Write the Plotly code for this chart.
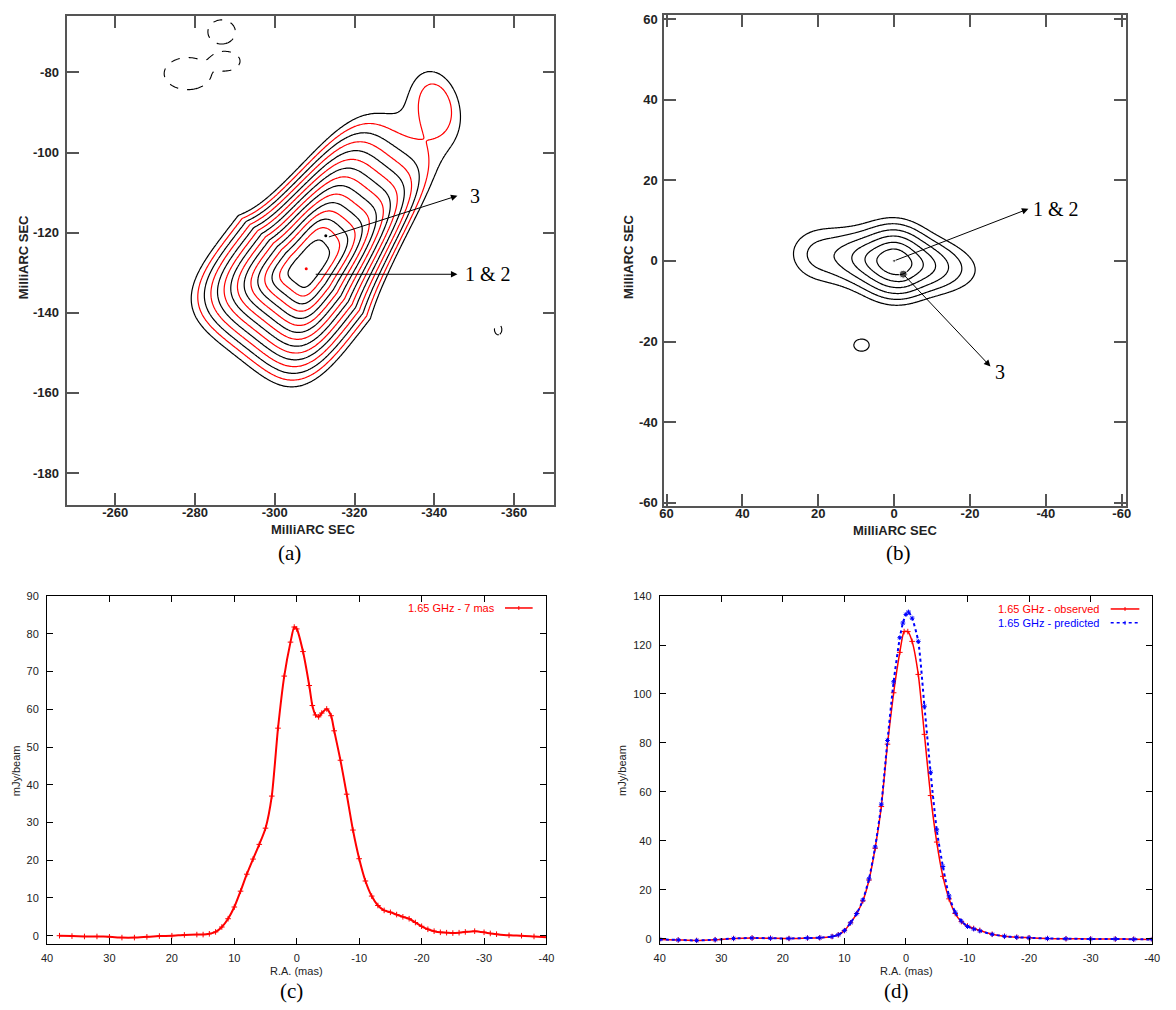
import numpy as np
import plotly.graph_objects as go

FIG_W, FIG_H = 1176, 1010


def px_x(p):
    return p / FIG_W


def px_y(p):
    return 1 - p / FIG_H


# ---------------- panel (a): 1.65 GHz map, source model components ----------------
# centre (mas), peak (units of the lowest contour), PA of the jet axis (deg), shape exponent,
# scale lengths along +u / -u, across-axis scales (+v, -v) at the core and far along the jet
A_COMP_X = [-307.9, -312.8, -340.5]
A_COMP_Y = [-129.0, -120.8, -88.0]
A_COMP_AMP = [190.0, 20.0, 1.7]
A_COMP_PA = [128.0, 0.0, 75.0]
A_COMP_P = [4.0, 2.0, 2.0]
A_COMP_HU_P = [6.8, 2.5, 6.5]
A_COMP_HU_N = [4.55, 2.5, 6.5]
A_COMP_HVP_CORE = [3.3, 2.5, 4.2]
A_COMP_HVP_JET = [1.9, 2.5, 4.2]
A_COMP_HVP_LEN = [22.0, 1.0, 1.0]
A_COMP_HVN_CORE = [3.5, 2.5, 4.2]
A_COMP_HVN_JET = [2.7, 2.5, 4.2]
A_COMP_HVN_LEN = [8.0, 1.0, 1.0]
# negative (dashed) features
A_NEG_X = [-286.7, -278.2, -287.5, -356.0]
A_NEG_Y = [-69.9, -80.3, -77.2, -144.2]
A_NEG_SX = [1.92, 3.29, 2.12, 0.5]
A_NEG_SY = [1.67, 2.23, 1.34, 0.72]
A_NEG_AMP = [5.0, 5.0, 5.0, 5.0]
A_XTICKS = [-260, -280, -300, -320, -340, -360]
A_YTICKS = [-80, -100, -120, -140, -160, -180]
A_MARK_X = [-307.9, -312.8]
A_MARK_Y = [-129.0, -120.8]
A_MARK_COL = ["red", "black"]
A_ARROW_TAIL = [(-313.2, -121.2), (-309.9, -130.4)]
A_ARROW_HEAD = [(-345.8, -110.8), (-345.8, -130.4)]
A_LABELS = ["3", "1 & 2"]
A_LABEL_POS = [(-350.2, -110.8), (-353.4, -130.4)]

# ---------------- panel (b) ----------------
B_COMP_X = [0.0, 0.0, -2.3, 20.0]
B_COMP_Y = [0.0, -0.3, -3.2, 1.5]
B_COMP_AMP = [40.0, 30.0, 5.0, 1.6]
B_COMP_HU = [2.2, 5.0, 1.5, 4.0]
B_COMP_HV = [2.2, 1.9, 1.5, 3.5]
B_COMP_PA = [0.0, 6.0, 0.0, 0.0]
B_BLOB_X = [8.6]
B_BLOB_Y = [-20.9]
B_BLOB_SX = [1.77]
B_BLOB_SY = [1.32]
B_BLOB_AMP = [1.9]
B_TICKS = [60, 40, 20, 0, -20, -40, -60]
B_MARK_X = [0.0, -2.4]
B_MARK_Y = [0.0, -3.3]
B_MARK_SIZE = [3, 8]
B_ARROW_TAIL = [(0.0, 0.0), (-2.4, -3.3)]
B_ARROW_HEAD = [(-35.4, 12.9), (-25.4, -26.2)]
B_LABELS = ["1 & 2", "3"]
B_LABEL_POS = [(-42.6, 12.8), (-27.9, -27.6)]

# ---------------- panel (c): 1.65 GHz - 7 mas slice ----------------
C_X = [38, 36, 34, 32, 30, 28, 26, 24, 22, 20, 18, 16, 15, 14, 13, 12, 11, 10, 9, 8, 7, 6, 5, 4,
       3, 2, 1, 0.4, 0, -1, -2, -2.5, -3, -3.5, -4, -4.8, -5.5, -6, -7, -8, -9, -10, -11, -12,
       -13, -14, -15, -16, -17, -18, -19, -20, -21, -22, -23, -24, -25, -26, -27, -28.5, -30,
       -31, -32, -34, -36, -38, -40]
C_Y = [0.0, -0.1, -0.2, -0.2, -0.3, -0.5, -0.5, -0.3, -0.1, 0.0, 0.2, 0.3, 0.3, 0.5, 1.0, 2.3,
       4.5, 7.6, 11.8, 16.3, 20.3, 24.2, 28.5, 37.0, 55.0, 68.8, 77.8, 81.8, 81.3, 75.3, 66.3,
       61.0, 58.5, 58.0, 59.0, 60.1, 58.3, 54.3, 46.5, 37.5, 28.0, 20.4, 14.5, 10.5, 8.0, 6.7,
       6.2, 5.6, 5.0, 4.5, 3.5, 2.5, 1.7, 1.2, 0.9, 0.8, 0.7, 0.8, 1.0, 1.2, 0.9, 0.6, 0.4, 0.1,
       0.0, -0.2, -0.4]
C_XTICKS = [40, 30, 20, 10, 0, -10, -20, -30, -40]
C_YTICKS = [0, 10, 20, 30, 40, 50, 60, 70, 80, 90]

# ---------------- panel (d): observed vs predicted ----------------
D_X_OBS = [40, 37, 34, 31, 28, 25, 22, 19, 16, 14, 12, 11, 10, 9, 8, 7, 6, 5, 4, 3, 2, 1, 0.3,
           -0.3, -1, -2, -3, -4, -5, -6, -7, -8, -9, -10, -11, -12, -14, -16, -18, -20, -23,
           -26, -30, -34, -37, -40]
D_Y_OBS = [-0.3, -0.5, -0.7, -0.4, 0.1, 0.3, 0.2, 0.1, 0.3, 0.4, 0.9, 1.6, 3.3, 6.5, 10.3,
           15.5, 24.0, 37.0, 54.0, 79.5, 100.5, 117.0, 125.5, 125.5, 121.5, 108.0, 83.5, 58.5,
           39.5, 25.5, 16.3, 10.3, 7.0, 5.2, 4.2, 3.4, 1.8, 1.0, 0.6, 0.4, 0.1, 0.0, -0.1,
           -0.1, -0.2, -0.3]
D_X_PRED = [40, 37, 34, 31, 28, 25, 22, 19, 16, 14, 12, 11, 10, 9, 8, 7, 6, 5, 4, 3, 2, 1, 0.5,
            0, -0.4, -1, -2, -3, -4, -5, -6, -7, -8, -9, -10, -11, -12, -14, -16, -18, -20, -23,
            -26, -30, -34, -37, -40]
D_Y_PRED = [-0.3, -0.5, -0.7, -0.4, 0.1, 0.3, 0.2, 0.1, 0.3, 0.4, 0.9, 1.6, 3.3, 6.5, 10.3,
            15.8, 24.5, 37.5, 55.0, 81.0, 105.0, 123.0, 129.0, 132.5, 133.5, 131.0, 121.5, 95.0,
            68.0, 44.5, 29.5, 17.5, 10.8, 7.2, 5.0, 4.0, 3.2, 1.8, 1.0, 0.6, 0.4, 0.1, 0.0,
            -0.1, -0.1, -0.2, -0.3]
D_XTICKS = [40, 30, 20, 10, 0, -10, -20, -30, -40]
D_YTICKS = [0, 20, 40, 60, 80, 100, 120, 140]


def source_field(X, Y, cx, cy, amp, pa, pexp, hup, hun, hvp0, hvp1, lp, hvn0, hvn1, ln_):
    """Sum of smoothed-exponential components; across-axis scale may taper along the jet."""
    img = np.zeros_like(X)
    for k in range(len(cx)):
        t = np.deg2rad(pa[k])
        dx, dy = X - cx[k], Y - cy[k]
        u = dx * np.cos(t) + dy * np.sin(t)
        v = -dx * np.sin(t) + dy * np.cos(t)
        up = np.maximum(u, 0.0)
        su = np.where(u >= 0, hup[k], hun[k])
        svp = hvp1[k] + (hvp0[k] - hvp1[k]) * np.exp(-up / lp[k])
        svn = hvn1[k] + (hvn0[k] - hvn1[k]) * np.exp(-up / ln_[k])
        sv = np.where(v >= 0, svp, svn)
        e = pexp[k]
        rho = (np.abs(u / su) ** e + np.abs(v / sv) ** e) ** (1.0 / e)
        img += amp[k] * np.exp(-(np.sqrt(1.0 + rho ** 2) - 1.0))
    return img


def gauss_field(X, Y, cx, cy, sx, sy, amp):
    img = np.zeros_like(X)
    for x0, y0, a, gx, gy in zip(cx, cy, amp, sx, sy):
        img += a * np.exp(-0.5 * (((X - x0) / gx) ** 2 + ((Y - y0) / gy) ** 2))
    return img


fig = go.Figure()

# ---- (a) contours
ax_g = np.arange(-372.0, -245.8, 0.3)
ay_g = np.arange(-190.0, -63.8, 0.3)
AX, AY = np.meshgrid(ax_g, ay_g)
Ia = source_field(AX, AY, A_COMP_X, A_COMP_Y, A_COMP_AMP, A_COMP_PA, A_COMP_P,
                  A_COMP_HU_P, A_COMP_HU_N, A_COMP_HVP_CORE, A_COMP_HVP_JET, A_COMP_HVP_LEN,
                  A_COMP_HVN_CORE, A_COMP_HVN_JET, A_COMP_HVN_LEN)
Za = 2 * np.log2(np.maximum(Ia, 1e-9))  # index of sqrt(2) contour steps
Na = gauss_field(AX, AY, A_NEG_X, A_NEG_Y, A_NEG_SX, A_NEG_SY, A_NEG_AMP)

for start, end, col in [(0, 14.5, "black"), (1, 13.5, "red")]:
    fig.add_trace(go.Contour(
        x=ax_g, y=ay_g, z=Za, autocontour=False,
        contours=dict(coloring="lines", start=start, end=end, size=2),
        line=dict(width=1.2, smoothing=1), colorscale=[[0, col], [1, col]],
        showscale=False, hoverinfo="skip", xaxis="x", yaxis="y"))
fig.add_trace(go.Contour(
    x=ax_g, y=ay_g, z=Na, autocontour=False,
    contours=dict(coloring="lines", start=1, end=1.01, size=1),
    line=dict(width=1.1, dash="dash"), colorscale=[[0, "black"], [1, "black"]],
    showscale=False, hoverinfo="skip", xaxis="x", yaxis="y"))
fig.add_trace(go.Scatter(x=A_MARK_X, y=A_MARK_Y, mode="markers",
                         marker=dict(color=A_MARK_COL, size=3), hoverinfo="skip",
                         xaxis="x", yaxis="y"))

# ---- (b) contours
bx_g = np.arange(-62.0, 62.01, 0.3)
by_g = np.arange(-62.0, 62.01, 0.3)
BX, BY = np.meshgrid(bx_g, by_g)
nb = len(B_COMP_X)
Ib = source_field(BX, BY, B_COMP_X, B_COMP_Y, B_COMP_AMP, B_COMP_PA, [2.0] * nb,
                  B_COMP_HU, B_COMP_HU, B_COMP_HV, B_COMP_HV, [1.0] * nb,
                  B_COMP_HV, B_COMP_HV, [1.0] * nb)
Ib += gauss_field(BX, BY, B_BLOB_X, B_BLOB_Y, B_BLOB_SX, B_BLOB_SY, B_BLOB_AMP)
Zb = np.log2(np.maximum(Ib, 1e-9))
fig.add_trace(go.Contour(
    x=bx_g, y=by_g, z=Zb, autocontour=False,
    contours=dict(coloring="lines", start=0, end=5.5, size=1),
    line=dict(width=1.2), colorscale=[[0, "black"], [1, "black"]],
    showscale=False, hoverinfo="skip", xaxis="x2", yaxis="y2"))
fig.add_trace(go.Scatter(x=B_MARK_X, y=B_MARK_Y, mode="markers",
                         marker=dict(color="black", size=B_MARK_SIZE), hoverinfo="skip",
                         xaxis="x2", yaxis="y2"))

# ---- (c) slice
fig.add_trace(go.Scatter(
    x=C_X, y=C_Y, mode="lines+markers",
    line=dict(color="red", width=2, shape="spline", smoothing=0.6),
    marker=dict(symbol="cross-thin", size=4, line=dict(color="red", width=1)),
    hoverinfo="skip", xaxis="x3", yaxis="y3"))

# ---- (d) slices
fig.add_trace(go.Scatter(
    x=D_X_OBS, y=D_Y_OBS, mode="lines+markers",
    line=dict(color="red", width=1.5, shape="spline", smoothing=0.6),
    marker=dict(symbol="cross-thin", size=4, line=dict(color="red", width=1)),
    hoverinfo="skip", xaxis="x4", yaxis="y4"))
fig.add_trace(go.Scatter(
    x=D_X_PRED, y=D_Y_PRED, mode="lines+markers",
    line=dict(color="blue", width=2, dash="dot", shape="spline", smoothing=0.6),
    marker=dict(symbol="asterisk-open", size=4, line=dict(color="blue", width=1)),
    hoverinfo="skip", xaxis="x4", yaxis="y4"))

map_font = dict(family="Liberation Sans, Arial, sans-serif", size=13, color="#222", weight="bold")
map_axis = dict(showline=True, linecolor="#555", linewidth=1.5, mirror="ticks", ticks="inside",
                ticklen=12, tickwidth=1.5, tickcolor="#555", showgrid=False, zeroline=False,
                tickfont=map_font, tickmode="array")
gp_font = dict(family="Liberation Sans, Arial, sans-serif", size=11, color="#222")
gp_axis = dict(showline=True, linecolor="black", linewidth=1, mirror="ticks", ticks="inside",
               ticklen=6, tickwidth=1, tickcolor="black", showgrid=False, zeroline=False,
               tickfont=gp_font, tickmode="array")


def tt(vals):
    return [str(v) for v in vals]


fig.update_layout(
    width=FIG_W, height=FIG_H, margin=dict(l=0, r=0, t=0, b=0),
    paper_bgcolor="white", plot_bgcolor="white", showlegend=False,
    xaxis=dict(map_axis, domain=[px_x(62), px_x(555)], anchor="y", range=[-248, -370.1],
               tickvals=A_XTICKS, ticktext=tt(A_XTICKS), ticklabelstandoff=-5),
    yaxis=dict(map_axis, domain=[px_y(504), px_y(10)], anchor="x", range=[-188, -65.9],
               tickvals=A_YTICKS, ticktext=tt(A_YTICKS), ticklabelstandoff=4),
    xaxis2=dict(map_axis, domain=[px_x(666), px_x(1133)], anchor="y2", range=[60.65, -61],
                tickvals=B_TICKS, ticktext=tt(B_TICKS), ticklabelstandoff=-5),
    yaxis2=dict(map_axis, domain=[px_y(505), px_y(9)], anchor="x2", range=[-60.8, 61],
                tickvals=B_TICKS, ticktext=tt(B_TICKS), ticklabelstandoff=2),
    xaxis3=dict(gp_axis, domain=[px_x(41.5), px_x(547)], anchor="y3", range=[40, -40],
                tickvals=C_XTICKS, ticktext=tt(C_XTICKS), ticklabelstandoff=4),
    yaxis3=dict(gp_axis, domain=[px_y(947), px_y(596)], anchor="x3", range=[-2.1, 90],
                tickvals=C_YTICKS, ticktext=tt(C_YTICKS), ticklabelstandoff=5),
    xaxis4=dict(gp_axis, domain=[px_x(661.6), px_x(1160)], anchor="y4", range=[40, -40],
                tickvals=D_XTICKS, ticktext=tt(D_XTICKS), ticklabelstandoff=4),
    yaxis4=dict(gp_axis, domain=[px_y(947), px_y(596)], anchor="x4", range=[-2.0, 140],
                tickvals=D_YTICKS, ticktext=tt(D_YTICKS), ticklabelstandoff=5),
)

ann = []
serif = "Liberation Serif, Times New Roman, serif"
C = dict(xanchor="center", yanchor="middle", showarrow=False)
# arrows and labels (a)
for (tx, ty), (hx, hy) in zip(A_ARROW_TAIL, A_ARROW_HEAD):
    ann.append(dict(x=hx, y=hy, ax=tx, ay=ty, xref="x", yref="y", axref="x", ayref="y",
                    text="", showarrow=True, arrowhead=2, arrowsize=1.3, arrowwidth=1,
                    arrowcolor="black", standoff=0, startstandoff=0))
for t, (lx, ly) in zip(A_LABELS, A_LABEL_POS):
    ann.append(dict(C, x=lx, y=ly, xref="x", yref="y", text=t,
                    font=dict(family=serif, size=20, color="black")))
for (tx, ty), (hx, hy) in zip(B_ARROW_TAIL, B_ARROW_HEAD):
    ann.append(dict(x=hx, y=hy, ax=tx, ay=ty, xref="x2", yref="y2", axref="x2", ayref="y2",
                    text="", showarrow=True, arrowhead=2, arrowsize=1.3, arrowwidth=1,
                    arrowcolor="black", standoff=0, startstandoff=0))
for t, (lx, ly) in zip(B_LABELS, B_LABEL_POS):
    ann.append(dict(C, x=lx, y=ly, xref="x2", yref="y2", text=t,
                    font=dict(family=serif, size=20, color="black")))

# axis titles
titles = [("MilliARC SEC", 311, 529, 0, map_font), ("MilliARC SEC", 18, 254, -90, map_font),
          ("MilliARC SEC", 900, 530, 0, map_font), ("MilliARC SEC", 630, 254, -90, map_font),
          ("R.A. (mas)", 294, 975, 0, gp_font), ("mJy/beam", 10, 772, -90, gp_font),
          ("R.A. (mas)", 911, 975, 0, gp_font), ("mJy/beam", 624, 772, -90, gp_font)]
for t, cx, cy, ang, f in titles:
    ann.append(dict(C, x=px_x(cx), y=px_y(cy), xref="paper", yref="paper", text=t,
                    textangle=ang, font=f))

# sub captions
for t, cx, cy in [("(a)", 287, 552), ("(b)", 903, 552), ("(c)", 289, 995), ("(d)", 901, 995)]:
    ann.append(dict(C, x=px_x(cx), y=px_y(cy), xref="paper", yref="paper", text=t,
                    font=dict(family=serif, size=21, color="black")))

# legends (gnuplot style: text then sample)
leg = [("1.65 GHz - 7 mas", "red", 497, 608, 505, 533, "solid"),
       ("1.65 GHz - observed", "red", 1109, 609, 1118, 1147, "solid"),
       ("1.65 GHz - predicted", "blue", 1109, 623, 1118, 1147, "dot")]
shapes = []
for txt, col, xr, yc, s0, s1, dash in leg:
    ann.append(dict(x=px_x(xr), y=px_y(yc), xref="paper", yref="paper", text=txt,
                    xanchor="right", yanchor="middle", showarrow=False,
                    font=dict(family="Liberation Sans, Arial, sans-serif", size=11, color=col)))
    shapes.append(dict(type="line", xref="paper", yref="paper", x0=px_x(s0), x1=px_x(s1),
                       y0=px_y(yc), y1=px_y(yc), line=dict(color=col, width=1.5, dash=dash)))
    m = (s0 + s1) / 2
    shapes.append(dict(type="line", xref="paper", yref="paper", x0=px_x(m), x1=px_x(m),
                       y0=px_y(yc - 2), y1=px_y(yc + 2), line=dict(color=col, width=1)))

fig.update_layout(annotations=ann, shapes=shapes)
fig.write_html("out.html")
